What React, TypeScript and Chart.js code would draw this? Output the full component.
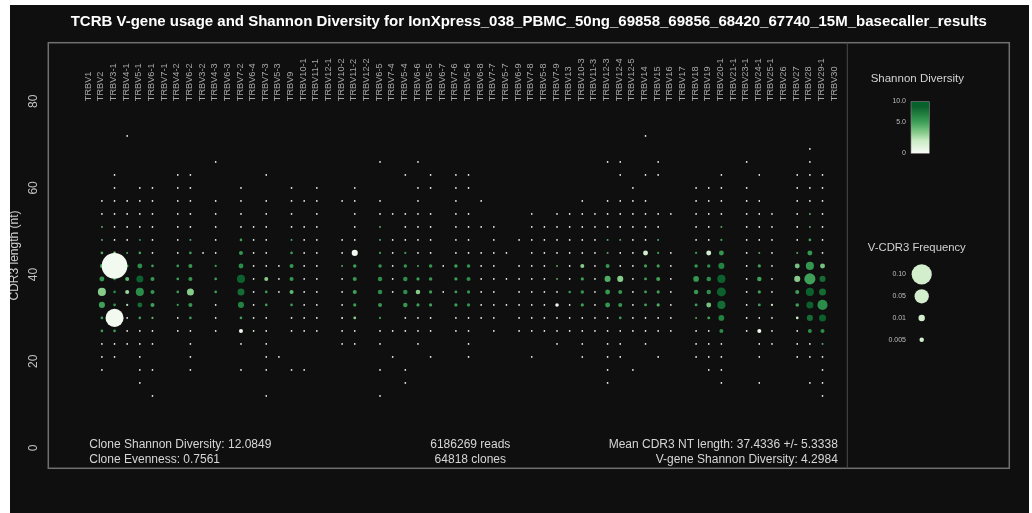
import { useEffect, useRef } from 'react';
import { Chart, registerables } from 'chart.js';

Chart.register(...registerables);

const FONT = '"Liberation Sans", Arial, Helvetica, sans-serif';

const sampleTitle =
  'TCRB V-gene usage and Shannon Diversity for IonXpress_038_PBMC_50ng_69858_69856_68420_67740_15M_basecaller_results';

// TRBV genes in chromosomal order (x positions 0..59)
const genes = [
  'TRBV1', 'TRBV2', 'TRBV3-1', 'TRBV4-1', 'TRBV5-1', 'TRBV6-1', 'TRBV7-1', 'TRBV4-2', 'TRBV6-2', 'TRBV3-2',
  'TRBV4-3', 'TRBV6-3', 'TRBV7-2', 'TRBV6-4', 'TRBV7-3', 'TRBV5-3', 'TRBV9', 'TRBV10-1', 'TRBV11-1', 'TRBV12-1',
  'TRBV10-2', 'TRBV11-2', 'TRBV12-2', 'TRBV6-5', 'TRBV7-4', 'TRBV5-4', 'TRBV6-6', 'TRBV5-5', 'TRBV6-7', 'TRBV7-6',
  'TRBV5-6', 'TRBV6-8', 'TRBV7-7', 'TRBV5-7', 'TRBV6-9', 'TRBV7-8', 'TRBV5-8', 'TRBV7-9', 'TRBV13', 'TRBV10-3',
  'TRBV11-3', 'TRBV12-3', 'TRBV12-4', 'TRBV12-5', 'TRBV14', 'TRBV15', 'TRBV16', 'TRBV17', 'TRBV18', 'TRBV19',
  'TRBV20-1', 'TRBV21-1', 'TRBV23-1', 'TRBV24-1', 'TRBV25-1', 'TRBV26', 'TRBV27', 'TRBV28', 'TRBV29-1', 'TRBV30',
];

// CDR3 nucleotide lengths observed for each V gene (same order as genes)
const cdr3Lengths: number[][] = [
  [],
  [57, 54, 51, 48, 45, 42, 39, 36, 33, 30, 27, 24, 21, 18],
  [63, 60, 57, 54, 51, 48, 45, 42, 39, 36, 33, 30, 27, 24, 21],
  [72, 57, 54, 51, 48, 45, 42, 39, 36, 33, 30, 27, 24],
  [60, 57, 54, 51, 48, 45, 42, 39, 36, 33, 30, 27, 24, 21, 18, 15],
  [60, 57, 54, 51, 48, 45, 42, 39, 36, 33, 30, 27, 24, 18, 12],
  [],
  [63, 60, 57, 54, 51, 48, 45, 42, 39, 36, 33, 30, 27],
  [63, 60, 57, 54, 51, 48, 45, 42, 39, 36, 33, 30, 27, 24, 21, 18],
  [45],
  [66, 57, 54, 51, 48, 45, 42, 39, 36, 33, 30, 27],
  [],
  [60, 57, 54, 51, 48, 45, 42, 39, 36, 33, 30, 27, 24, 18],
  [51, 48, 45, 42, 39, 36, 33, 30, 27],
  [63, 57, 54, 51, 48, 45, 42, 39, 36, 33, 30, 27, 24, 21, 18, 12],
  [42, 39, 36, 21],
  [60, 57, 54, 51, 48, 45, 42, 39, 36, 33, 30, 27, 18],
  [57, 51, 48, 45, 42, 39, 36, 33, 30, 27, 18],
  [60, 57, 54, 51, 48, 45, 42, 39, 36, 33, 30, 27],
  [],
  [57, 48, 45, 42, 39, 36, 33, 30, 27, 24],
  [60, 57, 54, 51, 48, 45, 42, 39, 36, 33, 30, 27, 24],
  [],
  [66, 57, 54, 51, 48, 45, 42, 39, 36, 33, 30, 27, 24, 18, 12],
  [54, 48, 45, 42, 39, 36, 27, 21],
  [63, 54, 51, 48, 45, 42, 39, 36, 33, 30, 27, 18, 15],
  [66, 60, 57, 54, 51, 48, 45, 42, 39, 36, 33, 30, 27, 24],
  [63, 60, 54, 51, 48, 45, 42, 39, 36, 33, 30, 27, 21],
  [42, 36],
  [63, 60, 57, 54, 51, 48, 45, 42, 39, 36, 33, 30, 27],
  [63, 60, 54, 51, 48, 45, 42, 39, 36, 33, 30, 27, 24, 21],
  [57, 51, 45, 42, 39, 36, 33, 30],
  [51, 48, 45, 42, 39, 36, 33, 30, 27],
  [45, 39, 33],
  [48, 42, 39, 36, 33, 30, 27],
  [54, 51, 48, 45, 42, 39, 36, 33, 30, 27, 21],
  [51, 48, 45, 42, 39, 36, 33, 30, 27],
  [54, 51, 48, 45, 42, 39, 36, 33, 30, 27, 24],
  [54, 51, 48, 45, 42, 39, 36, 33, 30, 27],
  [57, 54, 51, 48, 45, 42, 39, 36, 33, 30, 27, 24, 21],
  [54, 51, 48, 45, 42, 39, 36, 33, 30, 27],
  [66, 57, 54, 51, 48, 45, 42, 39, 36, 33, 30, 27, 24, 21, 18, 15],
  [66, 63, 57, 54, 51, 48, 45, 42, 39, 36, 33, 30, 27, 24, 21],
  [60, 57, 54, 51, 48, 45, 42, 39, 36, 33, 30, 27, 18],
  [72, 63, 57, 54, 51, 48, 45, 42, 39, 36, 33, 30, 27, 24],
  [66, 63, 54, 51, 48, 45, 42, 39, 36, 33, 30, 27, 21],
  [54, 45, 42, 39, 36, 33, 30, 27],
  [],
  [60, 57, 54, 51, 48, 45, 42, 39, 36, 33, 30, 27, 24, 21],
  [60, 57, 54, 51, 48, 45, 42, 39, 36, 33, 30, 27, 24, 21, 18],
  [63, 60, 57, 54, 51, 48, 45, 42, 39, 36, 33, 30, 27, 24, 21, 18, 15],
  [],
  [66, 60, 57, 54, 51, 48, 45, 42, 39, 36, 33, 30, 27],
  [63, 57, 54, 51, 48, 45, 42, 39, 36, 33, 30, 27, 24, 21, 15],
  [54, 51, 48, 45, 42, 39, 36, 33, 30, 27, 24],
  [],
  [63, 60, 57, 54, 51, 48, 45, 42, 39, 36, 33, 30, 27, 24, 21],
  [69, 66, 63, 60, 57, 54, 51, 48, 45, 42, 39, 36, 33, 30, 27, 24, 21, 15],
  [63, 60, 57, 54, 51, 48, 45, 42, 39, 36, 33, 30, 27, 24, 21, 18, 15, 12],
  [],
];

// Cells holding a single clone: low frequency, zero diversity
const singleCloneFreq = 0.0007;
const singleCloneShannon = 0;

// Multi-clone V-CDR3 cells: [gene, CDR3 length, frequency, Shannon diversity]
const cellStats: [string, number, number, number][] = [
  ['TRBV2', 51, 0.0009, 5], ['TRBV2', 48, 0.0009, 5], ['TRBV2', 45, 0.0017, 5.5], ['TRBV2', 42, 0.004, 6],
  ['TRBV2', 39, 0.006, 6.5], ['TRBV2', 36, 0.016, 4], ['TRBV2', 33, 0.009, 6], ['TRBV2', 30, 0.0017, 6],
  ['TRBV2', 27, 0.0017, 6],
  ['TRBV3-1', 45, 0.0017, 4], ['TRBV3-1', 42, 0.16, 0.3], ['TRBV3-1', 39, 0.0017, 7], ['TRBV3-1', 36, 0.0017, 7],
  ['TRBV3-1', 33, 0.0017, 6.5], ['TRBV3-1', 30, 0.08, 0.3], ['TRBV3-1', 27, 0.0017, 6],
  ['TRBV4-1', 45, 0.0009, 5], ['TRBV4-1', 42, 0.0017, 6], ['TRBV4-1', 39, 0.004, 5], ['TRBV4-1', 36, 0.004, 3.5],
  ['TRBV4-1', 33, 0.0012, 3],
  ['TRBV5-1', 48, 0.0009, 6], ['TRBV5-1', 45, 0.0017, 6], ['TRBV5-1', 42, 0.006, 7], ['TRBV5-1', 39, 0.012, 9],
  ['TRBV5-1', 36, 0.016, 7], ['TRBV5-1', 33, 0.006, 8.5], ['TRBV5-1', 30, 0.0017, 6],
  ['TRBV6-1', 42, 0.0017, 6], ['TRBV6-1', 39, 0.004, 6.5], ['TRBV6-1', 36, 0.004, 6.5], ['TRBV6-1', 33, 0.004, 6],
  ['TRBV6-1', 30, 0.0012, 5],
  ['TRBV4-2', 42, 0.0017, 6], ['TRBV4-2', 39, 0.0017, 6], ['TRBV4-2', 36, 0.0017, 6], ['TRBV4-2', 33, 0.0012, 6],
  ['TRBV6-2', 48, 0.0009, 5], ['TRBV6-2', 45, 0.0017, 6], ['TRBV6-2', 42, 0.004, 6.5], ['TRBV6-2', 39, 0.004, 6.5],
  ['TRBV6-2', 36, 0.012, 4], ['TRBV6-2', 33, 0.004, 6.5], ['TRBV6-2', 30, 0.0017, 6],
  ['TRBV4-3', 42, 0.0012, 6], ['TRBV4-3', 39, 0.0017, 6], ['TRBV4-3', 36, 0.0017, 6],
  ['TRBV7-2', 48, 0.0017, 6], ['TRBV7-2', 45, 0.004, 6.5], ['TRBV7-2', 42, 0.006, 7], ['TRBV7-2', 39, 0.016, 9],
  ['TRBV7-2', 36, 0.012, 8.5], ['TRBV7-2', 33, 0.009, 7.5], ['TRBV7-2', 30, 0.0017, 6], ['TRBV7-2', 27, 0.004, 0.5],
  ['TRBV7-3', 39, 0.004, 4], ['TRBV7-3', 36, 0.0017, 6], ['TRBV7-3', 33, 0.0017, 6],
  ['TRBV9', 48, 0.0009, 5], ['TRBV9', 45, 0.0017, 6], ['TRBV9', 42, 0.004, 6.5], ['TRBV9', 39, 0.004, 6.5],
  ['TRBV9', 36, 0.004, 5], ['TRBV9', 33, 0.0017, 6],
  ['TRBV10-2', 42, 0.0009, 5], ['TRBV10-2', 30, 0.001, 2],
  ['TRBV11-2', 45, 0.009, 0.3], ['TRBV11-2', 42, 0.003, 6], ['TRBV11-2', 39, 0.004, 6.5], ['TRBV11-2', 36, 0.004, 6],
  ['TRBV11-2', 33, 0.0025, 6], ['TRBV11-2', 30, 0.002, 4],
  ['TRBV6-5', 51, 0.0009, 5], ['TRBV6-5', 48, 0.0009, 5], ['TRBV6-5', 45, 0.0012, 6], ['TRBV6-5', 42, 0.003, 6.5],
  ['TRBV6-5', 39, 0.005, 7], ['TRBV6-5', 36, 0.005, 7], ['TRBV6-5', 33, 0.004, 6.5], ['TRBV6-5', 30, 0.0012, 6],
  ['TRBV5-4', 45, 0.0012, 6], ['TRBV5-4', 42, 0.003, 6.5], ['TRBV5-4', 39, 0.005, 7], ['TRBV5-4', 36, 0.005, 7],
  ['TRBV5-4', 33, 0.005, 6.5],
  ['TRBV6-6', 42, 0.0009, 5], ['TRBV6-6', 39, 0.0025, 6], ['TRBV6-6', 36, 0.005, 4], ['TRBV6-6', 33, 0.0025, 6],
  ['TRBV5-5', 42, 0.003, 6.5], ['TRBV5-5', 39, 0.003, 6.5], ['TRBV5-5', 36, 0.0025, 6], ['TRBV5-5', 33, 0.0025, 6],
  ['TRBV7-6', 42, 0.003, 6], ['TRBV7-6', 39, 0.0025, 6], ['TRBV7-6', 36, 0.002, 6], ['TRBV7-6', 33, 0.0025, 6],
  ['TRBV5-6', 42, 0.003, 6.5], ['TRBV5-6', 39, 0.004, 7], ['TRBV5-6', 36, 0.0025, 6.5], ['TRBV5-6', 33, 0.0025, 6.5],
  ['TRBV7-9', 42, 0.0009, 5], ['TRBV7-9', 39, 0.0009, 5], ['TRBV7-9', 33, 0.003, 0.3],
  ['TRBV13', 36, 0.0015, 6],
  ['TRBV10-3', 42, 0.004, 4], ['TRBV10-3', 39, 0.0025, 6], ['TRBV10-3', 36, 0.003, 6.5], ['TRBV10-3', 33, 0.0025, 6],
  ['TRBV12-3', 48, 0.0009, 5], ['TRBV12-3', 45, 0.0009, 5], ['TRBV12-3', 42, 0.004, 6.5], ['TRBV12-3', 39, 0.009, 5.5],
  ['TRBV12-3', 36, 0.006, 6.5], ['TRBV12-3', 33, 0.006, 6.5],
  ['TRBV12-4', 48, 0.0009, 5], ['TRBV12-4', 39, 0.009, 4], ['TRBV12-4', 36, 0.004, 6.5], ['TRBV12-4', 33, 0.004, 6.5],
  ['TRBV12-4', 30, 0.0017, 6],
  ['TRBV14', 45, 0.006, 2], ['TRBV14', 42, 0.0025, 6], ['TRBV14', 39, 0.002, 6], ['TRBV14', 36, 0.002, 6],
  ['TRBV14', 33, 0.002, 6],
  ['TRBV15', 48, 0.0009, 5], ['TRBV15', 45, 0.0012, 6], ['TRBV15', 42, 0.0025, 6], ['TRBV15', 39, 0.004, 6],
  ['TRBV15', 36, 0.0025, 6], ['TRBV15', 33, 0.0025, 5.5],
  ['TRBV18', 45, 0.0012, 6], ['TRBV18', 42, 0.003, 6.5], ['TRBV18', 39, 0.008, 6.5], ['TRBV18', 36, 0.005, 6.5],
  ['TRBV18', 33, 0.002, 6], ['TRBV18', 30, 0.0009, 5],
  ['TRBV19', 45, 0.006, 2], ['TRBV19', 42, 0.003, 7], ['TRBV19', 39, 0.005, 7], ['TRBV19', 36, 0.005, 7],
  ['TRBV19', 33, 0.006, 4.5], ['TRBV19', 30, 0.002, 6],
  ['TRBV20-1', 51, 0.0009, 5], ['TRBV20-1', 48, 0.0012, 6], ['TRBV20-1', 45, 0.006, 6.5], ['TRBV20-1', 42, 0.009, 7.5],
  ['TRBV20-1', 39, 0.016, 9], ['TRBV20-1', 36, 0.02, 9], ['TRBV20-1', 33, 0.016, 8.5], ['TRBV20-1', 30, 0.008, 7.5],
  ['TRBV20-1', 27, 0.004, 7],
  ['TRBV24-1', 45, 0.0009, 5], ['TRBV24-1', 42, 0.0025, 6], ['TRBV24-1', 39, 0.005, 6], ['TRBV24-1', 36, 0.0025, 6],
  ['TRBV24-1', 33, 0.002, 6], ['TRBV24-1', 27, 0.004, 0.3],
  ['TRBV25-1', 33, 0.0012, 2],
  ['TRBV27', 45, 0.0009, 5], ['TRBV27', 42, 0.006, 4.5], ['TRBV27', 39, 0.009, 4], ['TRBV27', 36, 0.004, 6],
  ['TRBV27', 33, 0.003, 6], ['TRBV27', 30, 0.0017, 2],
  ['TRBV28', 54, 0.0009, 5], ['TRBV28', 51, 0.0009, 5], ['TRBV28', 48, 0.0017, 6], ['TRBV28', 45, 0.006, 6.5],
  ['TRBV28', 42, 0.016, 6.5], ['TRBV28', 39, 0.03, 6], ['TRBV28', 36, 0.016, 9], ['TRBV28', 33, 0.012, 9],
  ['TRBV28', 30, 0.009, 8.5], ['TRBV28', 27, 0.004, 7],
  ['TRBV29-1', 42, 0.006, 4.5], ['TRBV29-1', 39, 0.009, 8.5], ['TRBV29-1', 36, 0.012, 8.5], ['TRBV29-1', 33, 0.025, 7],
  ['TRBV29-1', 30, 0.012, 9], ['TRBV29-1', 27, 0.004, 7], ['TRBV29-1', 24, 0.0009, 5],
];

const yTicks = [0, 20, 40, 60, 80];
const geneLabelBase = 80; // CDR3 length at which the gene names start

const summaryLeft = ['Clone Shannon Diversity: 12.0849', 'Clone Evenness: 0.7561'];
const summaryCenter = ['6186269 reads', '64818 clones'];
const summaryRight = ['Mean CDR3 NT length: 37.4336 +/- 5.3338', 'V-gene Shannon Diversity: 4.2984'];

const diversityLegendTitle = 'Shannon Diversity';
const diversityLegendLabels = ['10.0', '5.0', '0'];
const freqLegendTitle = 'V-CDR3 Frequency';
const freqLegendValues = [0.1, 0.05, 0.01, 0.005];
const freqLegendLabels = ['0.10', '0.05', '0.01', '0.005'];

// colour ramp for Shannon diversity, white (0) to dark green (10)
const shadeStops: [number, number[]][] = [
  [0, [248, 252, 246]],
  [2.5, [200, 234, 195]],
  [4, [135, 203, 138]],
  [6, [62, 160, 88]],
  [7.5, [35, 130, 65]],
  [9, [12, 96, 45]],
  [10, [0, 100, 42]],
];

function shannonColor(s: number): string {
  const v = Math.max(0, Math.min(10, s));
  for (let i = 1; i < shadeStops.length; i++) {
    const [v1, c1] = shadeStops[i];
    const [v0, c0] = shadeStops[i - 1];
    if (v <= v1) {
      const t = (v - v0) / (v1 - v0);
      const c = c0.map((a, k) => Math.round(a + (c1[k] - a) * t));
      return `rgb(${c[0]},${c[1]},${c[2]})`;
    }
  }
  const c = shadeStops[shadeStops.length - 1][1];
  return `rgb(${c[0]},${c[1]},${c[2]})`;
}

// bubble area proportional to frequency
function bubbleRadius(freq: number): number {
  return 32 * Math.sqrt(freq);
}

type Cell = { x: number; y: number; r: number; f: number; s: number };

export default function App() {
  const canvasRef = useRef<HTMLCanvasElement>(null);

  useEffect(() => {
    const canvas = canvasRef.current;
    if (!canvas) return;

    const statIndex = new Map<string, [number, number]>();
    cellStats.forEach(([g, nt, f, s]) => statIndex.set(`${g}|${nt}`, [f, s]));

    const cells: Cell[] = [];
    genes.forEach((g, gi) => {
      cdr3Lengths[gi].forEach((nt) => {
        const st = statIndex.get(`${g}|${nt}`);
        const f = st ? st[0] : singleCloneFreq;
        const s = st ? st[1] : singleCloneShannon;
        cells.push({ x: gi, y: nt, r: bubbleRadius(f), f, s });
      });
    });
    // larger bubbles painted last
    cells.sort((a, b) => a.f - b.f);

    const decor = {
      id: 'tcrDecor',
      beforeDraw(chart: any) {
        const { ctx, width, height } = chart;
        ctx.save();
        ctx.fillStyle = '#0f0f0f';
        ctx.fillRect(0, 0, width, height);
        ctx.restore();
      },
      afterDraw(chart: any) {
        const { ctx, chartArea: ca, scales } = chart;
        const xs = scales.x;
        const ys = scales.y;
        const outerRight = ca.right + 162;
        ctx.save();

        // panel frame and legend divider
        ctx.strokeStyle = '#707070';
        ctx.lineWidth = 1.5;
        ctx.strokeRect(ca.left, ca.top, outerRight - ca.left, ca.bottom - ca.top);
        ctx.beginPath();
        ctx.moveTo(ca.right, ca.top);
        ctx.lineTo(ca.right, ca.bottom);
        ctx.lineWidth = 1;
        ctx.strokeStyle = '#4a4a4a';
        ctx.stroke();

        // title
        ctx.fillStyle = '#ffffff';
        ctx.font = `bold 15px ${FONT}`;
        ctx.textAlign = 'center';
        ctx.textBaseline = 'middle';
        ctx.fillText(sampleTitle, (ca.left + outerRight) / 2, 17);

        // gene names, vertical, above the bubbles
        ctx.fillStyle = '#a6a6a6';
        ctx.font = `9.2px ${FONT}`;
        ctx.textAlign = 'left';
        ctx.textBaseline = 'middle';
        const baseY = ys.getPixelForValue(geneLabelBase);
        genes.forEach((g, gi) => {
          ctx.save();
          ctx.translate(xs.getPixelForValue(gi) - 1, baseY);
          ctx.rotate(-Math.PI / 2);
          ctx.fillText(g, 0, 0);
          ctx.restore();
        });

        // y tick labels (vertical)
        ctx.fillStyle = '#c0c0c0';
        ctx.font = `12px ${FONT}`;
        ctx.textAlign = 'center';
        yTicks.forEach((v) => {
          ctx.save();
          ctx.translate(ca.left - 15, ys.getPixelForValue(v));
          ctx.rotate(-Math.PI / 2);
          ctx.fillText(String(v), 0, 0);
          ctx.restore();
        });

        // y axis title
        ctx.fillStyle = '#cfcfcf';
        ctx.save();
        ctx.translate(ca.left - 33.5, (ca.top + ca.bottom) / 2);
        ctx.rotate(-Math.PI / 2);
        ctx.fillText('CDR3 length (nt)', 0, 0);
        ctx.restore();

        // summary statistics
        ctx.fillStyle = '#d6d6d6';
        ctx.font = `12px ${FONT}`;
        const line1 = ca.bottom - 23.5;
        const line2 = ca.bottom - 9;
        ctx.textAlign = 'left';
        ctx.fillText(summaryLeft[0], xs.getPixelForValue(0), line1);
        ctx.fillText(summaryLeft[1], xs.getPixelForValue(0), line2);
        ctx.textAlign = 'center';
        ctx.fillText(summaryCenter[0], ca.left + 422, line1);
        ctx.fillText(summaryCenter[1], ca.left + 422, line2);
        ctx.textAlign = 'right';
        ctx.fillText(summaryRight[0], ca.right - 9.5, line1);
        ctx.fillText(summaryRight[1], ca.right - 9.5, line2);

        // Shannon diversity colour bar
        const lx = ca.right + 70; // legend column centre
        ctx.fillStyle = '#d2d2d2';
        ctx.font = `11.5px ${FONT}`;
        ctx.textAlign = 'center';
        ctx.fillText(diversityLegendTitle, lx, 74);
        const barL = ca.right + 63.7;
        const barW = 18.3;
        const barT = 96.7;
        const barB = 148.3;
        const grad = ctx.createLinearGradient(0, barB, 0, barT);
        shadeStops.forEach(([v]) => grad.addColorStop(v / 10, shannonColor(v)));
        ctx.fillStyle = grad;
        ctx.fillRect(barL, barT, barW, barB - barT);
        ctx.strokeStyle = '#8a8a8a';
        ctx.lineWidth = 0.6;
        ctx.strokeRect(barL, barT, barW, barB - barT);
        ctx.fillStyle = '#bdbdbd';
        ctx.font = `7px ${FONT}`;
        ctx.textAlign = 'right';
        const barLabelY = [barT - 0.5, 117.3, barB];
        diversityLegendLabels.forEach((t, k) => ctx.fillText(t, barL - 5, barLabelY[k]));

        // frequency bubble key
        ctx.fillStyle = '#d2d2d2';
        ctx.font = `11.3px ${FONT}`;
        ctx.textAlign = 'center';
        ctx.fillText(freqLegendTitle, lx - 0.5, 243.3);
        const keyY = [269.3, 291.3, 313, 334.7];
        freqLegendValues.forEach((f, k) => {
          ctx.beginPath();
          ctx.arc(ca.right + 74.4, keyY[k], bubbleRadius(f), 0, Math.PI * 2);
          ctx.fillStyle = '#d3eecd';
          ctx.fill();
          ctx.fillStyle = '#bdbdbd';
          ctx.font = `7px ${FONT}`;
          ctx.textAlign = 'right';
          ctx.fillText(freqLegendLabels[k], barL - 5, keyY[k]);
        });

        ctx.restore();
      },
    };

    const chart = new Chart(canvas, {
      type: 'bubble',
      data: {
        datasets: [
          {
            data: cells as any,
            backgroundColor: (c: any) => shannonColor(c.raw ? c.raw.s : 0),
            borderWidth: 0,
            hoverRadius: 0,
          },
        ],
      },
      options: {
        responsive: false,
        animation: false,
        devicePixelRatio: 1,
        events: [],
        layout: { padding: { left: 38.3, right: 181.7, top: 37.7, bottom: 44.7 } },
        plugins: {
          legend: { display: false },
          tooltip: { enabled: false },
          title: { display: false },
        },
        scales: {
          x: { type: 'linear', min: -3.24, max: 59.96, display: false },
          y: { type: 'linear', min: -4.7, max: 93.5, display: false },
        },
      },
      plugins: [decor],
    });

    return () => chart.destroy();
  }, []);

  return (
    <div style={{ position: 'absolute', left: 10, top: 5, width: 1019, height: 508 }}>
      <canvas ref={canvasRef} width={1019} height={508} style={{ display: 'block' }} />
    </div>
  );
}
